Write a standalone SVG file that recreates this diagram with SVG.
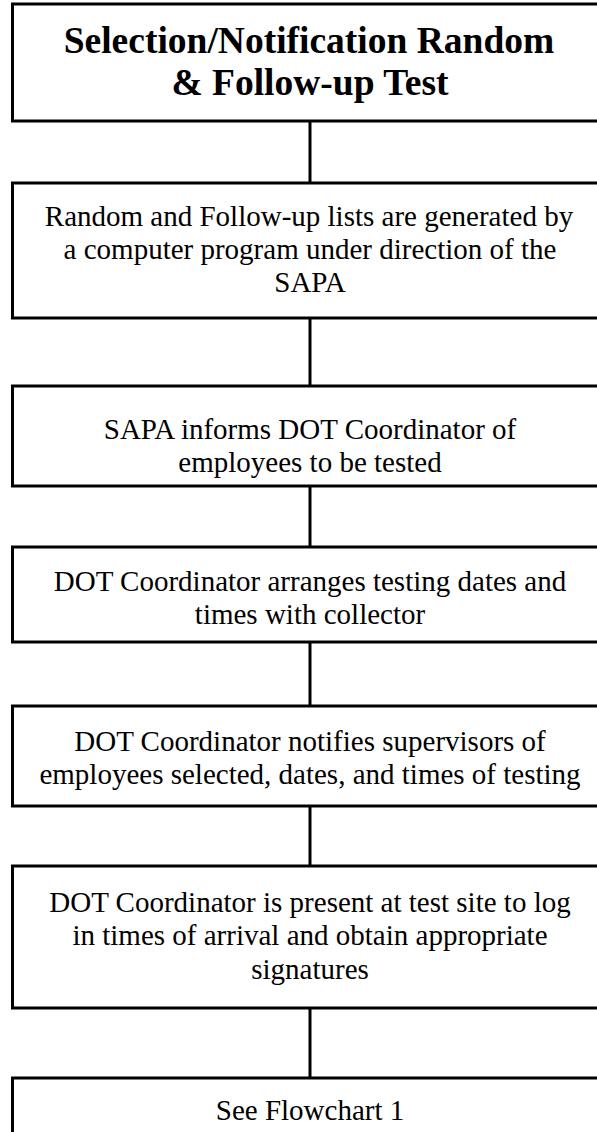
<svg xmlns="http://www.w3.org/2000/svg" width="597" height="1132" viewBox="0 0 597 1132">
<style>
.box{fill:#fff;stroke:#000;stroke-width:3}
.t{font-family:"Liberation Serif","Times New Roman",serif;font-size:29px;fill:#000;text-anchor:middle}
.h{font-family:"Liberation Serif","Times New Roman",serif;font-size:37.5px;font-weight:bold;fill:#000;text-anchor:middle}
.c{stroke:#000;stroke-width:3;fill:none}
</style>
<rect width="597" height="1132" fill="#fff"/>
<g id="connectors">
<line class="c" x1="310" y1="121" x2="310" y2="183"/>
<line class="c" x1="310" y1="318" x2="310" y2="386"/>
<line class="c" x1="310" y1="486" x2="310" y2="547"/>
<line class="c" x1="310" y1="642" x2="310" y2="706"/>
<line class="c" x1="310" y1="806" x2="310" y2="866"/>
<line class="c" x1="310" y1="1008" x2="310" y2="1078"/>
</g>
<g id="n1">
<rect class="box" x="12.5" y="4" width="600" height="117"/>
<text class="h" x="309" y="53">Selection/Notification Random</text>
<text class="h" x="310" y="95">&amp; Follow-up Test</text>
</g>
<g id="n2">
<rect class="box" x="12.5" y="183" width="600" height="135"/>
<text class="t" x="309" y="226">Random and Follow-up lists are generated by</text>
<text class="t" x="310" y="259">a computer program under direction of the</text>
<text class="t" x="310" y="292">SAPA</text>
</g>
<g id="n3">
<rect class="box" x="12.5" y="386" width="600" height="100"/>
<text class="t" x="310" y="439">SAPA informs DOT Coordinator of</text>
<text class="t" x="310" y="472">employees to be tested</text>
</g>
<g id="n4">
<rect class="box" x="12.5" y="547" width="600" height="95"/>
<text class="t" x="310" y="591">DOT Coordinator arranges testing dates and</text>
<text class="t" x="310" y="624">times with collector</text>
</g>
<g id="n5">
<rect class="box" x="12.5" y="706" width="600" height="100"/>
<text class="t" x="310" y="751">DOT Coordinator notifies supervisors of</text>
<text class="t" x="310" y="784">employees selected, dates, and times of testing</text>
</g>
<g id="n6">
<rect class="box" x="12.5" y="866" width="600" height="142"/>
<text class="t" x="310" y="912">DOT Coordinator is present at test site to log</text>
<text class="t" x="310" y="945">in times of arrival and obtain appropriate</text>
<text class="t" x="310" y="979">signatures</text>
</g>
<g id="n7">
<rect class="box" x="12.5" y="1078" width="600" height="80"/>
<text class="t" x="310" y="1120">See Flowchart 1</text>
</g>
</svg>
